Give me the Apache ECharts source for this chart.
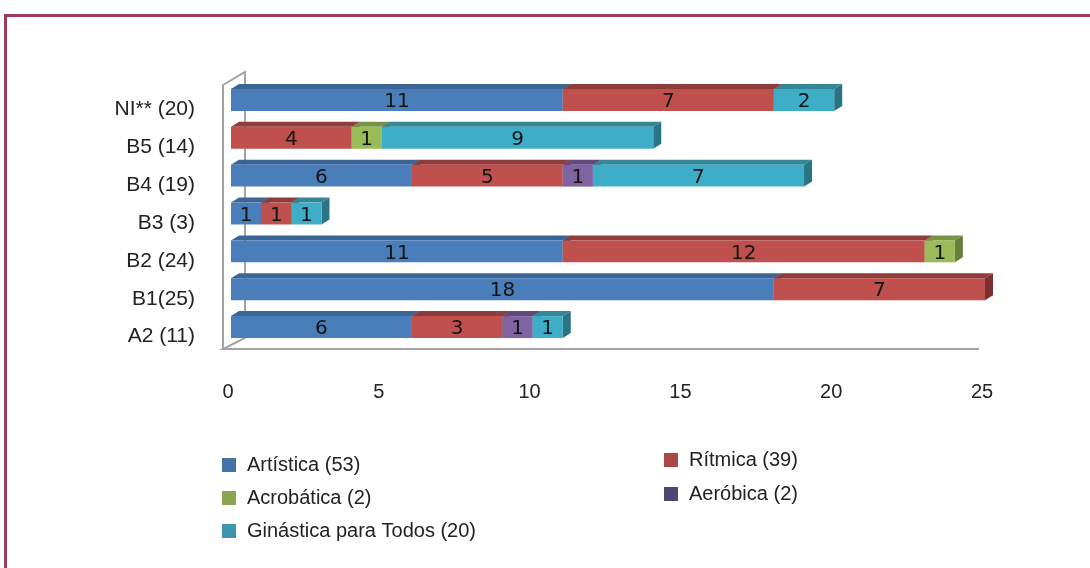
<!DOCTYPE html>
<html>
<head>
<meta charset="utf-8">
<script src="https://cdn.jsdelivr.net/npm/echarts@6/dist/echarts.min.js"></script>
<style>
html,body{margin:0;padding:0;background:#fff;}
#chart{width:1090px;height:568px;}
</style>
</head>
<body>
<div id="chart"></div>
<script>
// ---- Data ----
const categories = ['NI** (20)', 'B5 (14)', 'B4 (19)', 'B3 (3)', 'B2 (24)', 'B1(25)', 'A2 (11)'];
const seriesNames = ['Artística (53)', 'Rítmica (39)', 'Acrobática (2)', 'Aeróbica (2)', 'Ginástica para Todos (20)'];
const artistica  = [11, 0, 6, 1, 11, 18, 6];
const ritmica    = [7, 4, 5, 1, 12, 7, 3];
const acrobatica = [0, 1, 0, 0, 1, 0, 0];
const aerobica   = [0, 0, 1, 0, 0, 0, 1];
const gpt        = [2, 9, 7, 1, 0, 0, 1];
const xTickValues = [0, 5, 10, 15, 20, 25];

// ---- Styles ----
const palette = [
  {front:'#4a7ebb', top:'#3a6695', side:'#2f5580', legend:'#4572a7'},
  {front:'#c0504d', top:'#8f3c3b', side:'#7a3030', legend:'#aa4643'},
  {front:'#9bbb59', top:'#789343', side:'#64803a', legend:'#89a54e'},
  {front:'#8064a2', top:'#604a7c', side:'#513f69', legend:'#4f4472'},
  {front:'#3eadc7', top:'#348797', side:'#2b7484', legend:'#3d96ae'}
];
const allValues = [artistica, ritmica, acrobatica, aerobica, gpt];

// build stacked segments
const running = categories.map(() => 0);
const seriesData = allValues.map(vals => {
  const out = [];
  vals.forEach((v, i) => {
    if (v > 0) {
      out.push([i, running[i], running[i] + v, v]);
      running[i] += v;
    }
  });
  return out;
});

const DX = 8, DY = 5;
function makeRender(col) {
  return function (params, api) {
    const cat = api.value(0), s = api.value(1), e = api.value(2), v = api.value(3);
    const p0 = api.coord([s, cat]);
    const p1 = api.coord([e, cat]);
    const h = api.size([0, 1])[1] * 0.58;
    const x0 = p0[0], x1 = p1[0];
    const yt = p0[1] - h / 2 + 1, yb = yt + h;
    return {
      type: 'group',
      children: [
        {type: 'polygon', shape: {points: [[x0, yt], [x0 + DX, yt - DY], [x1 + DX, yt - DY], [x1, yt]]},
         style: {fill: col.top}},
        {type: 'polygon', shape: {points: [[x1, yt], [x1 + DX, yt - DY], [x1 + DX, yb - DY], [x1, yb]]},
         style: {fill: col.side}},
        {type: 'rect', shape: {x: x0, y: yt, width: x1 - x0, height: h},
         style: {fill: col.front}},
        {type: 'text', style: {text: String(v), x: (x0 + x1) / 2, y: (yt + yb) / 2 + 2,
          align: 'center', verticalAlign: 'middle', fontSize: 20,
          fontFamily: '"DejaVu Sans", sans-serif', fill: '#141414'}}
      ]
    };
  };
}

const chart = echarts.init(document.getElementById('chart'), null, {renderer: 'canvas'});
const option = {
  backgroundColor: '#ffffff',
  animation: false,
  grid: {left: 231, right: 105, top: 80, bottom: 223, containLabel: false},
  xAxis: {
    type: 'value', min: 0, max: 25, interval: 5,
    axisLine: {show: false}, axisTick: {show: false}, splitLine: {show: false},
    axisLabel: {
      margin: 37, fontSize: 20, color: '#222',
      fontFamily: '"Liberation Sans", Arial, sans-serif',
      padding: [0, 6, 0, 0],
      formatter: v => xTickValues.indexOf(v) >= 0 ? String(v) : ''
    }
  },
  yAxis: {
    type: 'category', data: categories, inverse: true,
    axisLine: {show: false}, axisTick: {show: false}, splitLine: {show: false},
    axisLabel: {
      margin: 36, fontSize: 21, color: '#222',
      fontFamily: '"Liberation Sans", Arial, sans-serif',
      verticalAlign: 'top'
    }
  },
  legend: [
    {
      orient: 'vertical', left: 217, top: 450, itemGap: 13,
      itemWidth: 14, itemHeight: 14, icon: 'rect',
      textStyle: {fontSize: 20, color: '#222', fontFamily: '"Liberation Sans", Arial, sans-serif', lineHeight: 20, padding: [0, 0, 0, 6]},
      data: [0, 2, 4].map(i => ({name: seriesNames[i], itemStyle: {color: palette[i].legend}}))
    },
    {
      orient: 'vertical', left: 659, top: 445, itemGap: 14,
      itemWidth: 14, itemHeight: 14, icon: 'rect',
      textStyle: {fontSize: 20, color: '#222', fontFamily: '"Liberation Sans", Arial, sans-serif', lineHeight: 20, padding: [0, 0, 0, 6]},
      data: [1, 3].map(i => ({name: seriesNames[i], itemStyle: {color: palette[i].legend}}))
    }
  ],
  series: seriesNames.map((name, i) => ({
    type: 'custom', name: name,
    itemStyle: {color: palette[i].legend},
    encode: {x: [1, 2], y: 0},
    renderItem: makeRender(palette[i]),
    data: seriesData[i],
    z: 2 + i
  }))
};
chart.setOption(option);

// frame (3D walls/floor outline) placed from the axis scale
const xa = chart.convertToPixel({xAxisIndex: 0}, 0);
const xb = chart.convertToPixel({xAxisIndex: 0}, 25);
const gTop = 80, gBot = 568 - 223;
const lineStyle = {stroke: '#a3a3a3', lineWidth: 2};
chart.setOption({
  graphic: [
    {type: 'rect', z: 0, shape: {x: 5.5, y: 15.5, width: 1200, height: 700},
     style: {fill: null, stroke: '#9e3a5d', lineWidth: 3}},
    {type: 'polyline', z: 0, shape: {points: [[xa - 8, gBot + 4], [xa - 8, gTop + 5], [xa + 14, gTop - 8], [xa + 14, gBot - 7], [xa - 8, gBot + 4], [xb - 6, gBot + 4]]},
     style: lineStyle}
  ]
});
</script>
</body>
</html>
